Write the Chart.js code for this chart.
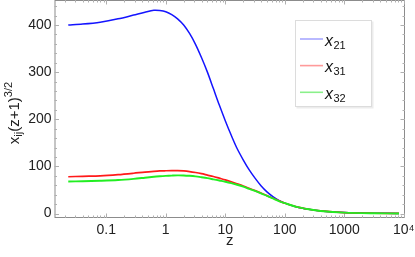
<!DOCTYPE html>
<html>
<head>
<meta charset="utf-8">
<script src="https://cdn.jsdelivr.net/npm/chart.js@4"></script>
<style>
html,body{margin:0;padding:0;background:#fff;}
#wrap{width:415px;height:257px;position:relative;}
</style>
</head>
<body>
<div id="wrap"><canvas id="c" width="415" height="257"></canvas></div>
<script>
const zValues = [0.023,0.04,0.079,0.158,0.288,0.447,0.631,0.794,1,1.26,1.58,2,2.51,3.16,3.98,5.01,6.31,7.94,10,12.6,15.8,20,25.1,31.6,39.8,50.1,63.1,79.4,100,158,251,398,1000,3160,8300];
const x21 = [400,402,406,413,421,427,431,430.5,428,422,413,400,382,359,331,300,265,230,197,166,138,114,93,75,59,46,36,28,22,14,9,5.5,2,0.6,0.2];
const x31 = [78,79,80,82.5,85.5,88,89.5,90.3,90.7,91,91,90.3,89,87,84.5,81.5,78.5,75,71.5,67.5,63,58.5,53.5,48.5,43.5,38,32.5,27,22,14,9,5.5,2,0.6,0.2];
const x32 = [68,68.5,69.5,71,73.5,76,78,79,79.8,80.5,81,80.8,80,78.8,77,75,72.5,70,67.5,64.5,61,57,52.5,48,43,37.5,32,26.5,22,14,9,5.5,2,0.6,0.2];
const seriesNames = ['21','31','32'];
const xTicks = [0.1,1,10,100,1000,10000];
const xTickLabels = ['0.1','1','10','100','1000','10\u2074'];
const yTicks = [0,100,200,300,400];

const FONT = '"Liberation Sans", Arial, sans-serif';
const lineColors = ['#1414ff','#ff1a1a','#22ee22'];
const legendColors = ['#a8a8ff','#ff9a9a','#8af08a'];

function pts(vals){ return zValues.map((z,i)=>({x:z,y:vals[i]})); }

const framePlugin = {
  id:'frame',
  beforeDatasetsDraw(chart){
    const ctx = chart.ctx, a = chart.chartArea;
    const xs = chart.scales.x, ys = chart.scales.y;
    ctx.save();
    ctx.strokeStyle = '#8c8c8c';
    ctx.lineWidth = 1;
    ctx.strokeRect(a.left+0.5, a.top+0.5, a.right-a.left-1, a.bottom-a.top-1);
    ctx.strokeStyle = '#b0b0b0';
    ctx.beginPath();
    for (let d=-2; d<=4; d++){
      for (let m=1; m<=9; m++){
        const v = m*Math.pow(10,d);
        if (v < xs.min || v > xs.max) continue;
        const px = Math.round(xs.getPixelForValue(v))+0.5;
        const len = (m===1)?4.5:2.5;
        ctx.moveTo(px, a.bottom); ctx.lineTo(px, a.bottom-len);
        ctx.moveTo(px, a.top); ctx.lineTo(px, a.top+len);
      }
    }
    for (let v=0; v<=440; v+=20){
      const py = Math.round(ys.getPixelForValue(v))+0.5;
      const len = (v%100===0)?4.5:2.5;
      ctx.moveTo(a.left, py); ctx.lineTo(a.left+len, py);
      ctx.moveTo(a.right, py); ctx.lineTo(a.right-len, py);
    }
    ctx.stroke();
    ctx.restore();
  },
  afterDatasetsDraw(chart){
    const ctx = chart.ctx;
    ctx.save();
    const L=295, T=20, R=372, B=107;
    ctx.fillStyle = '#ececec';
    ctx.fillRect(L+1.5, T+1.5, R-L, B-T);
    ctx.fillStyle = '#ffffff';
    ctx.fillRect(L, T, R-L, B-T);
    ctx.strokeStyle = '#dcdcdc';
    ctx.lineWidth = 1;
    ctx.strokeRect(L+0.5, T+0.5, R-L-1, B-T-1);
    const ys0 = [39, 65.6, 92.3];
    for (let i=0;i<3;i++){
      const y = ys0[i];
      ctx.strokeStyle = legendColors[i];
      ctx.lineWidth = 1.6;
      ctx.beginPath(); ctx.moveTo(300, y); ctx.lineTo(323, y); ctx.stroke();
      ctx.fillStyle = '#111';
      ctx.textBaseline = 'alphabetic';
      ctx.textAlign = 'left';
      ctx.font = 'italic 16px ' + FONT;
      ctx.fillText('x', 325, y+6.5);
      const w = ctx.measureText('x').width;
      ctx.font = '11px ' + FONT;
      ctx.fillText(seriesNames[i], 325+w+0.5, y+9.5);
    }
    ctx.translate(18.5, 113);
    ctx.rotate(-Math.PI/2);
    ctx.fillStyle = '#222';
    ctx.textBaseline = 'alphabetic';
    ctx.textAlign = 'left';
    const parts = [['x',15,0],['ij',11,3.5],['(z+1)',15,0],['3/2',11,-7]];
    let total = 0;
    for (const p of parts){ ctx.font = p[1]+'px '+FONT; total += ctx.measureText(p[0]).width; }
    let cx = -total/2;
    for (const p of parts){
      ctx.font = p[1]+'px '+FONT;
      ctx.fillText(p[0], cx, p[2]);
      cx += ctx.measureText(p[0]).width;
    }
    ctx.restore();
  }
};

new Chart(document.getElementById('c'), {
  type:'line',
  data:{
    datasets:[
      {label:'x21', data:pts(x21), borderColor:lineColors[0], borderWidth:1.5, pointRadius:0, tension:0.3, order:3},
      {label:'x31', data:pts(x31), borderColor:lineColors[1], borderWidth:1.7, pointRadius:0, tension:0.3, order:2},
      {label:'x32', data:pts(x32), borderColor:lineColors[2], borderWidth:1.9, pointRadius:0, tension:0.3, order:1}
    ]
  },
  options:{
    responsive:false,
    animation:false,
    events:[],
    layout:{padding:{top:0,right:10,left:0,bottom:0}},
    plugins:{legend:{display:false}, tooltip:{enabled:false}},
    scales:{
      x:{
        type:'logarithmic',
        min:0.0135, max:10470,
        grid:{display:false, drawTicks:false},
        border:{display:false},
        afterBuildTicks(s){ s.ticks = xTicks.map(v=>({value:v, major:true})); },
        afterFit(s){ s.height = 39; s.paddingLeft = 0; s.paddingRight = 0; },
        ticks:{
          autoSkip:false, maxRotation:0, padding:4,
          color:'#222', font:{family:FONT, size:14},
          callback(v){ const i = xTicks.indexOf(v); return i>=0 ? xTickLabels[i] : ''; }
        },
        title:{display:true, text:'z', color:'#222', font:{family:FONT, size:15}, padding:{top:2,bottom:7}}
      },
      y:{
        min:-9.5, max:453,
        grid:{display:false, drawTicks:false},
        border:{display:false},
        afterBuildTicks(s){ s.ticks = yTicks.map(v=>({value:v})); },
        afterFit(s){ s.width = 54.5; s.paddingTop = 0; s.paddingBottom = 0; },
        ticks:{padding:3, color:'#222', font:{family:FONT, size:14}}
      }
    }
  },
  plugins:[framePlugin]
});
</script>
</body>
</html>
